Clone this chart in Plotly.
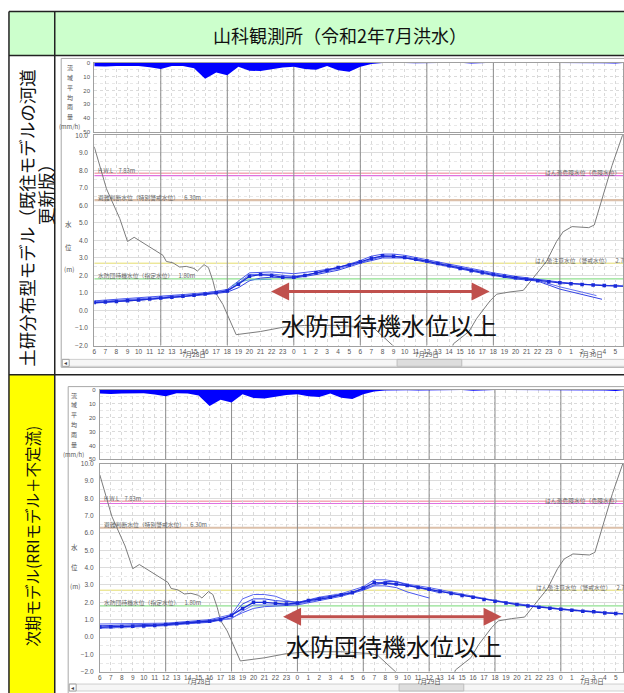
import plotly.graph_objects as go

W, H = 624, 693

# ---------------- text ----------------
TITLE = "山科観測所（令和2年7月洪水）"
ROW1_LABEL_A = "土研分布型モデル（既往モデルの河道"
ROW1_LABEL_B = "更新版）"
ROW2_LABEL = "次期モデル(RRIモデル＋不定流)"
BAND_TEXT = "水防団待機水位以上"
RAIN_AXIS_CHARS = ["流", "域", "平", "均", "雨", "量", "(mm/h)"]
LEVEL_AXIS_CHARS = ["水", "位", "(m)"]

# ---------------- time axis (hours since 7/28 6:00) ----------------
HOURS = list(range(49))
HOUR_LABELS = [str((6 + h) % 24) for h in HOURS]
DATE_LABELS = ["7月28日", "7月29日", "7月30日"]
DATE_HOURS = [9.0, 30.0, 44.8]

# ---------------- basin mean rainfall (mm/h) ----------------
RAIN = [2.5, 2.8, 2.4, 2.6, 2.3, 3.2, 4.5, 2.3, 2.4, 4.0,
        11.5, 7.0, 9.0, 3.0, 5.8, 6.0, 4.5, 3.5, 3.0, 4.5,
        5.0, 2.4, 5.5, 6.5, 3.0, 1.0, 0.3, 0.0, 0.2, 0.4,
        0.3, 0.2, 0.0, 0.0, 0.5, 0.0, 0.0, 0.0, 0.0, 0.0,
        0.0, 0.0, 0.3, 0.5, 0.3, 0.0, 0.4, 0.6, 0.0]

# ---------------- gray series ----------------
GRAY_H = [0, 0.45, 1.1, 2.3, 3.0, 3.6, 4.7, 5.6, 6.2, 6.5,
          7.1, 7.7, 8.3, 9.0, 9.3, 9.9, 10.3, 10.7, 11.0, 11.6,
          12.0, 12.8, 15.0, 17.0, 19.0, 22.0, 24.6, 25.3, 27.1, 28.0,
          32.0, 32.4, 33.8, 34.5, 35.7, 36.3, 37.5, 38.7, 39.6, 40.8,
          41.7, 42.3, 43.1, 44.6, 45.1, 45.8, 46.7, 47.7]
GRAY_V = [9.35, 8.36, 6.95, 5.25, 3.94, 4.18, 3.75, 3.35, 3.15, 2.8,
          2.72, 2.48, 2.52, 2.4, 2.25, 2.62, 2.45, 1.7, 0.95, 0.35,
          -0.2, -1.38, -1.2, -0.96, -0.85, -0.85, -0.95, -1.05, -2.1, -2.6,
          -2.6, -1.9, -1.2, -0.45, 0.55, 0.93, 1.06, 1.15, 1.86, 2.81,
          3.94, 4.5, 4.79, 4.73, 4.88, 6.38, 8.27, 10.1]

# ---------------- water level, row 1 ----------------
R1_MAIN = [0.45, 0.48, 0.52, 0.56, 0.6, 0.65, 0.72, 0.76, 0.81, 0.87,
           0.94, 1.02, 1.12, 1.5, 1.95, 2.05, 2.0, 1.9, 1.9, 2.0,
           2.15, 2.3, 2.45, 2.6, 2.78, 2.98, 3.12, 3.1, 3.02, 2.93,
           2.82, 2.68, 2.55, 2.4, 2.27, 2.15, 2.05, 1.95, 1.87, 1.78,
           1.7, 1.64, 1.58, 1.53, 1.48, 1.45, 1.42, 1.4, 1.38]
R1_E1_H = [0, 6, 10, 12, 13, 14, 16, 18, 20, 22, 24, 25, 26, 27, 28, 30, 32, 34, 36, 38, 40, 42, 44, 46, 48]
R1_E1_V = [0.55, 0.8, 1.0, 1.2, 1.7, 2.15, 2.2, 2.1, 2.25, 2.45, 2.85, 3.1, 3.22, 3.22, 3.15, 2.92, 2.65, 2.4, 2.15, 1.95, 1.78, 1.62, 1.5, 1.42, 1.38]
R1_E2_H = [0, 6, 10, 12, 13, 14, 15, 16, 18, 20, 22, 24, 26, 28, 30, 32, 34, 36, 38, 40, 42, 44, 45.8]
R1_E2_V = [0.42, 0.68, 0.9, 1.05, 1.3, 1.7, 1.85, 1.9, 1.85, 2.05, 2.3, 2.7, 3.0, 3.0, 2.75, 2.5, 2.25, 2.0, 1.8, 1.68, 1.22, 0.9, 0.64]
R1_E3_H = [0, 6, 12, 13, 14, 16, 18, 20, 22, 24, 26, 28, 30, 32, 34, 36, 38, 40, 42, 44, 45.3]
R1_E3_V = [0.5, 0.75, 1.15, 1.55, 2.05, 2.08, 1.95, 2.12, 2.38, 2.72, 3.08, 3.08, 2.85, 2.6, 2.35, 2.1, 1.88, 1.72, 1.35, 1.05, 0.85]
R1_E4_H = [12.5, 13, 14, 15, 16]
R1_E4_V = [1.4, 1.62, 1.75, 1.78, 1.78]

# ---------------- water level, row 2 ----------------
R2_MAIN = [0.57, 0.59, 0.61, 0.62, 0.63, 0.67, 0.72, 0.76, 0.82, 0.88,
           0.91, 1.0, 1.26, 1.64, 2.0, 2.0, 1.94, 1.9, 1.96, 2.1,
           2.19, 2.29, 2.44, 2.55, 2.82, 3.14, 3.1, 3.05, 2.97, 2.86,
           2.76, 2.63, 2.51, 2.4, 2.29, 2.17, 2.06, 1.96, 1.87, 1.79,
           1.71, 1.66, 1.6, 1.54, 1.49, 1.45, 1.39, 1.35, 1.33]
R2_E1_H = [0, 6, 10, 12, 13, 14, 15, 16, 17, 18, 20, 22, 24, 25, 26, 27, 28, 30, 32, 36, 40, 44, 48]
R2_E1_V = [0.75, 0.8, 1.0, 1.3, 2.2, 2.45, 2.45, 2.35, 2.1, 1.98, 2.3, 2.5, 2.9, 3.3, 3.3, 3.2, 3.05, 2.85, 2.6, 2.1, 1.75, 1.5, 1.33]
R2_E2_H = [0, 6, 10, 12, 13, 14, 15, 16, 18, 20, 22, 24, 25, 26, 27, 28, 30, 31]
R2_E2_V = [0.65, 0.75, 0.95, 1.2, 1.9, 2.2, 2.2, 2.1, 2.0, 2.25, 2.45, 2.75, 3.0, 3.2, 3.2, 3.0, 2.7, 2.55]
R2_E3_H = [0, 6, 10, 12, 13, 14, 15, 16, 17, 18, 20, 22, 24, 25, 26, 27, 28, 30]
R2_E3_V = [0.55, 0.68, 0.85, 1.1, 1.4, 1.65, 1.75, 1.8, 1.82, 1.85, 2.1, 2.35, 2.7, 2.95, 2.95, 2.85, 2.6, 2.25]
R2_E4_H = [0, 6, 12, 13, 14, 16, 18, 22, 24, 26, 28, 30, 34, 38, 42, 48]
R2_E4_V = [0.5, 0.65, 1.05, 1.5, 1.85, 1.85, 1.9, 2.4, 2.8, 3.15, 3.0, 2.75, 2.3, 1.9, 1.62, 1.33]

# ---------------- reference levels ----------------
REF_NAMES = ["H.W.L", "はん濫危険水位（危険水位）", "避難判断水位（特別警戒水位）",
             "はん濫注意水位（警戒水位）", "水防団待機水位（指定水位）"]
REF_VALUES = [7.83, 7.70, 6.30, 2.70, 1.80]
REF_COLORS = ["#f3aab6", "#e070e0", "#dcc0aa", "#e4dc6c", "#90e090"]
REF_WIDTHS = [1.5, 1.2, 2.2, 1.0, 1.3]
REF_SIDES = ["left", "right", "left", "right", "left"]

LEVEL_RANGE = [-2, 10]
RAIN_RANGE = [50, 0]

FONT = "Noto Sans CJK JP, Noto Sans, sans-serif"
NUMFONT = "Liberation Sans, DejaVu Sans, sans-serif"


def px(x):
    return x / W


def py(y):
    return 1 - y / H


def label(x, y, text, size, color="#555", **kw):
    d = dict(xref="paper", yref="paper", x=px(x), y=py(y), text=text, showarrow=False,
             xanchor="center", yanchor="middle", font=dict(size=size, color=color, family=FONT))
    d.update(kw)
    return d


ROWS = [
    dict(left=92.7, pph=11.14, rain=(59.3, 129.3), lvl=(132.7, 345.0), main=R1_MAIN,
         ens=[(R1_E1_H, R1_E1_V, "#4a58ee"), (R1_E2_H, R1_E2_V, "#3444e4"),
              (R1_E3_H, R1_E3_V, "#6270f2"), (R1_E4_H, R1_E4_V, "#5fb0c8")],
         frame=(59.5, 55.0, 367.0), scroll=(359.0, 366.0), thumb=(397, 462),
         ylab_x=67, ylab_y=[222, 245, 268], rlab_x=68, rlab_y=[64, 74, 84, 94, 104, 114, 124],
         date_y=353.5, arrow_y=290.5, arrow_x=(270, 490), text_xy=(389, 324)),
    dict(left=98.3, pph=11.03, rain=(390.0, 460.0), lvl=(464.3, 674.5), main=R2_MAIN,
         ens=[(R2_E1_H, R2_E1_V, "#5a66f0"), (R2_E2_H, R2_E2_V, "#3444e4"),
              (R2_E3_H, R2_E3_V, "#4a58ee"), (R2_E4_H, R2_E4_V, "#6c78f2")],
         frame=(66.5, 386.5, 700.0), scroll=(687.0, 694.0), thumb=(399, 464),
         ylab_x=73, ylab_y=[549, 569, 588], rlab_x=72, rlab_y=[395, 405, 415, 425, 435, 445, 455],
         date_y=683.5, arrow_y=619.0, arrow_x=(282, 502), text_xy=(394, 648)),
]

fig = go.Figure()
shapes = []
annotations = []
layout_axes = {}

for i, r in enumerate(ROWS):
    a, b = 2 * i + 1, 2 * i + 2
    xa = "x" if a == 1 else f"x{a}"
    ya = "y" if a == 1 else f"y{a}"
    xb, yb = f"x{b}", f"y{b}"
    xr = (W - r["left"]) / r["pph"]
    dom_x = [px(r["left"]), 1.0]

    common_x = dict(domain=dom_x, range=[0, xr], tickmode="array", tickvals=HOURS[:48],
                    showgrid=True, gridcolor="#d9d9d9", griddash="dot", gridwidth=1,
                    showline=True, mirror=True, linecolor="#a0a0a0", linewidth=1,
                    zeroline=False, ticks="", fixedrange=True)
    layout_axes["xaxis" if a == 1 else f"xaxis{a}"] = dict(common_x, anchor=ya, showticklabels=False)
    layout_axes[f"xaxis{b}"] = dict(common_x, anchor=yb, ticktext=HOUR_LABELS[:48],
                                     showticklabels=True, tickangle=0, ticklabelstandoff=0,
                                     tickfont=dict(size=6.5, color="#555", family=NUMFONT))
    layout_axes["yaxis" if a == 1 else f"yaxis{a}"] = dict(
        domain=[py(r["rain"][1]), py(r["rain"][0])], range=RAIN_RANGE, anchor=xa,
        tickmode="linear", tick0=0, dtick=10, showgrid=True, gridcolor="#dadada", griddash="dot",
        minor=dict(dtick=5, tick0=0, showgrid=True, gridcolor="#e8e8e8", griddash="dot"),
        showline=True, mirror=True, linecolor="#a0a0a0", linewidth=1, zeroline=False, ticks="",
        ticklabelstandoff=2, tickfont=dict(size=6, color="#555", family=NUMFONT), fixedrange=True)
    layout_axes[f"yaxis{b}"] = dict(
        domain=[py(r["lvl"][1]), py(r["lvl"][0])], range=LEVEL_RANGE, anchor=xb,
        tickmode="linear", tick0=0, dtick=1, tickformat=".1f",
        showgrid=True, gridcolor="#dcdcdc", gridwidth=1,
        minor=dict(dtick=0.5, tick0=0, showgrid=True, gridcolor="#e8e8e8", griddash="dot"),
        showline=True, mirror=True, linecolor="#a0a0a0", linewidth=1, zeroline=False, ticks="",
        ticklabelstandoff=4, tickfont=dict(size=6.5, color="#555", family=NUMFONT), fixedrange=True)

    # 6-hourly dark grid lines (drawn first, beneath the data)
    for h in HOURS:
        if h % 6 == 0 and 0 < h < xr:
            for xx, yy, rng in ((xa, ya, RAIN_RANGE), (xb, yb, LEVEL_RANGE)):
                fig.add_trace(go.Scatter(x=[h, h], y=rng, xaxis=xx, yaxis=yy, mode="lines",
                                         line=dict(color="#8c8c8c", width=1), hoverinfo="skip"))

    # rainfall
    fig.add_trace(go.Scatter(x=HOURS, y=RAIN, xaxis=xa, yaxis=ya, mode="lines", fill="tozeroy",
                             line=dict(color="#0000ff", width=0), fillcolor="#0000ff",
                             hoverinfo="skip"))
    # gray series
    fig.add_trace(go.Scatter(x=GRAY_H, y=GRAY_V, xaxis=xb, yaxis=yb, mode="lines",
                             line=dict(color="#7c7c7c", width=1), hoverinfo="skip"))
    # ensemble lines
    for hx, vy, col in r["ens"]:
        fig.add_trace(go.Scatter(x=hx, y=vy, xaxis=xb, yaxis=yb, mode="lines",
                                 line=dict(color=col, width=1), hoverinfo="skip"))
    # main line with markers
    fig.add_trace(go.Scatter(x=HOURS, y=r["main"], xaxis=xb, yaxis=yb, mode="lines+markers",
                             line=dict(color="#1a2ad8", width=1.3),
                             marker=dict(symbol="square", size=3.5, color="#1a2ad8"),
                             hoverinfo="skip"))

    # reference level lines + labels
    for name, val, col, wd, side in zip(REF_NAMES, REF_VALUES, REF_COLORS, REF_WIDTHS, REF_SIDES):
        shapes.append(dict(type="line", xref=xb, yref=yb, x0=0, x1=xr, y0=val, y1=val,
                           line=dict(color=col, width=wd), layer="below"))
        txt = f"{name}\u00a0\u00a0\u00a0\u00a0{val:.2f}m"
        xpos = 0.004 if side == "left" else (0.848 if val > 5 else 0.829)
        annotations.append(dict(xref=f"{xb} domain", yref=yb, x=xpos, y=val, yshift=3,
                                text=txt, showarrow=False, xanchor="left", yanchor="middle",
                                font=dict(size=5.8, color="#666", family=FONT)))

    # axis character labels
    for ch, yy in zip(LEVEL_AXIS_CHARS, r["ylab_y"]):
        annotations.append(label(r["ylab_x"], yy, ch, 6.5))
    for ch, yy in zip(RAIN_AXIS_CHARS, r["rlab_y"]):
        annotations.append(label(r["rlab_x"], yy, ch, 6))
    # date labels
    for txt, hh in zip(DATE_LABELS, DATE_HOURS):
        annotations.append(dict(xref=xb, yref="paper", x=hh, y=py(r["date_y"]), text=txt,
                                showarrow=False, xanchor="center", yanchor="middle",
                                font=dict(size=6.5, color="#555", family=FONT)))

    # software window frame and scrollbar
    fl, ft, fb = r["frame"]
    shapes.append(dict(type="rect", xref="paper", yref="paper", x0=px(fl), x1=px(W + 5),
                       y0=py(fb), y1=py(ft), line=dict(color="#a8a8a8", width=1), layer="above"))
    s0, s1 = r["scroll"]
    shapes.append(dict(type="rect", xref="paper", yref="paper", x0=px(fl + 1), x1=px(W + 5),
                       y0=py(s1), y1=py(s0), line=dict(color="#cfcfcf", width=1),
                       fillcolor="#f6f6f6", layer="above"))
    shapes.append(dict(type="rect", xref="paper", yref="paper", x0=px(fl + 1), x1=px(fl + 8),
                       y0=py(s1), y1=py(s0), line=dict(color="#a0a0a0", width=1),
                       fillcolor="#ffffff", layer="above"))
    shapes.append(dict(type="rect", xref="paper", yref="paper", x0=px(r["thumb"][0]),
                       x1=px(r["thumb"][1]), y0=py(s1), y1=py(s0),
                       line=dict(color="#bdbdbd", width=1), fillcolor="#dddddd", layer="above"))
    annotations.append(label(fl + 4.5, (s0 + s1) / 2, "◂", 6, "#444"))

    # red double arrow and band text
    ax0, ax1 = r["arrow_x"]
    annotations.append(dict(xref="paper", yref="paper", x=px(ax1), y=py(r["arrow_y"]),
                            axref="pixel", ayref="pixel", ax=-(ax1 - ax0), ay=0, text="",
                            showarrow=True, arrowhead=2, startarrowhead=2, arrowside="end+start",
                            arrowsize=1.2, startarrowsize=1.2, arrowwidth=3,
                            arrowcolor="#c0504d"))
    tx, ty = r["text_xy"]
    annotations.append(label(tx, ty, BAND_TEXT, 24, "#111"))

# ---------------- table ----------------
LEFT, COL, TOP, HEAD_BOT, ROW_DIV = 7, 53, 7.5, 52, 374.5
shapes.append(dict(type="rect", xref="paper", yref="paper", x0=px(LEFT), x1=px(W + 5),
                   y0=py(HEAD_BOT), y1=py(TOP), fillcolor="#ccffcc", line=dict(width=0), layer="below"))
shapes.append(dict(type="rect", xref="paper", yref="paper", x0=px(LEFT), x1=px(COL),
                   y0=py(H + 5), y1=py(ROW_DIV), fillcolor="#ffff00", line=dict(width=0), layer="below"))
for yy in (TOP, HEAD_BOT, ROW_DIV):
    shapes.append(dict(type="line", xref="paper", yref="paper", x0=px(LEFT), x1=px(W + 5),
                       y0=py(yy), y1=py(yy), line=dict(color="#222", width=1.5), layer="above"))
for xx in (LEFT, COL):
    shapes.append(dict(type="line", xref="paper", yref="paper", x0=px(xx), x1=px(xx),
                       y0=py(TOP), y1=py(H + 5), line=dict(color="#222", width=1.5), layer="above"))

annotations.append(label(340, 31, TITLE, 18, "#111"))
annotations.append(label(25, 216, ROW1_LABEL_A, 17.5, "#111", textangle=-90))
annotations.append(label(43, 188, ROW1_LABEL_B, 17.5, "#111", textangle=-90))
annotations.append(label(30, 537, ROW2_LABEL, 15.5, "#111", textangle=-90))

fig.update_layout(width=W, height=H, margin=dict(l=0, r=0, t=0, b=0),
                  paper_bgcolor="white", plot_bgcolor="rgba(0,0,0,0)", showlegend=False,
                  font=dict(family=FONT), shapes=shapes, annotations=annotations, **layout_axes)

fig.write_html("out.html", config={"displayModeBar": False},
               post_script="document.body.style.margin='0';document.body.style.overflow='hidden';")
